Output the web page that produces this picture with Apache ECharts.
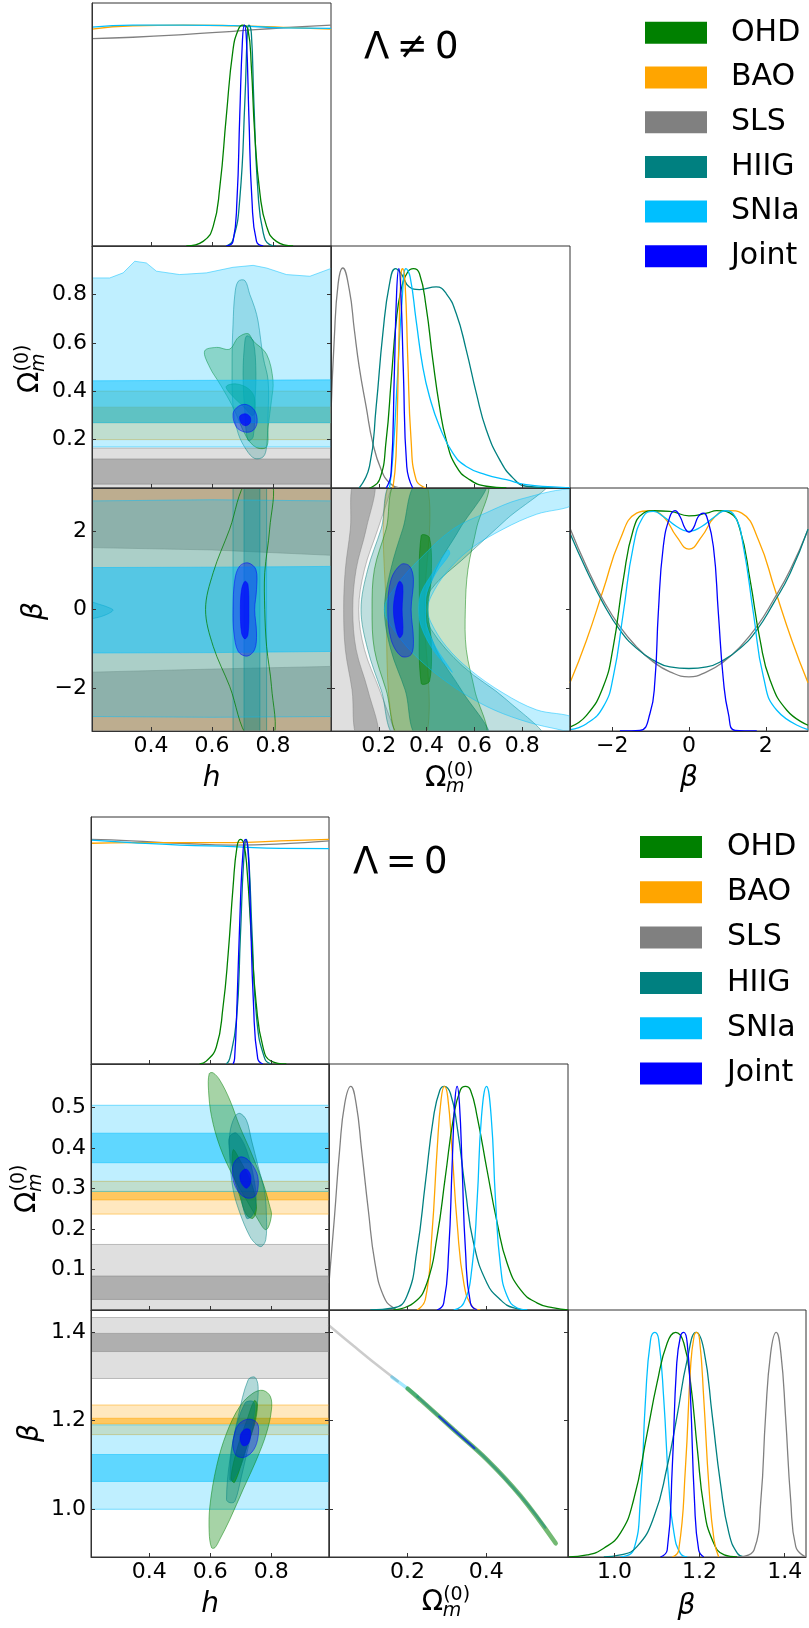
<!DOCTYPE html>
<html><head><meta charset="utf-8">
<script src="https://cdn.jsdelivr.net/npm/echarts@6/dist/echarts.min.js"></script>
<style>html,body{margin:0;padding:0;background:#fff}#c{width:809px;height:1628px}</style>
</head><body><div id="c"></div>
<script>
// ---------------- names / colours ----------------
const NAMES = ['OHD','BAO','SLS','HIIG','SNIa','Joint'];
const COLORS = {OHD:'#008000',BAO:'#ffa500',SLS:'#808080',HIIG:'#008080',SNIa:'#00bfff',Joint:'#0000ff'};
const TITLES = ['\u039b\u2009\u2260\u20090', '\u039b\u2009=\u20090'];

// ---------------- axis ranges & tick labels ----------------
const RANGE_TOP = {h:[0.207,0.99], Om:[0,1], beta:[-3.1,3.1]};
const RANGE_BOT = {h:[0.2085,0.99], Om:[0,0.608], beta:[0.891,1.45]};
const XTICKS_TOP = {h:[0.4,0.6,0.8], Om:[0.2,0.4,0.6,0.8], beta:[-2,0,2]};
const YTICKS_TOP = {Om:[0.2,0.4,0.6,0.8], beta:[-2,0,2]};
const XTICKS_BOT = {h:[0.4,0.6,0.8], Om:[0.2,0.4], beta:[1.0,1.2,1.4]};
const YTICKS_BOT = {Om:[0.1,0.2,0.3,0.4,0.5], beta:[1.0,1.2,1.4]};

// ================= TOP FIGURE (Lambda != 0) =================
const T11_OHD = [[0.516,0],[0.571,0.021],[0.604,0.089],[0.626,0.27],[0.647,0.587],[0.669,0.889],[0.686,0.979],[0.70,1.0],[0.718,0.979],[0.729,0.813],[0.74,0.512],[0.757,0.24],[0.779,0.089],[0.811,0.021],[0.866,0]];
const T11_HIIG = [[0.647,0],[0.669,0.029],[0.691,0.21],[0.708,0.662],[0.716,0.964],[0.721,1.0],[0.729,0.964],[0.737,0.662],[0.751,0.24],[0.768,0.059],[0.789,0.006],[0.81,0]];
const T11_Joint = [[0.647,0],[0.669,0.021],[0.682,0.21],[0.691,0.587],[0.70,0.934],[0.706,1.0],[0.713,0.934],[0.721,0.587],[0.731,0.21],[0.746,0.021],[0.768,0]];
const T11_BAO = [[0.207,0.982],[0.341,0.997],[0.505,1.0],[0.669,0.997],[0.833,0.99],[0.99,0.982]];
const T11_SNIa = [[0.207,0.991],[0.341,1.0],[0.505,1.0],[0.669,0.998],[0.833,0.987],[0.99,0.985]];
const T11_SLS = [[0.207,0.939],[0.341,0.945],[0.505,0.957],[0.669,0.972],[0.833,0.988],[0.99,1.0]];
const T22_SLS = [[0.0,0.34],[0.0134,0.672],[0.03,0.93],[0.049,1.0],[0.0769,0.899],[0.0977,0.718],[0.118,0.551],[0.147,0.37],[0.175,0.204],[0.21,0.083],[0.245,0.023],[0.286,0]];
const T22_HIIG = [[0.118,0],[0.161,0.098],[0.189,0.37],[0.217,0.703],[0.245,0.929],[0.27,0.997],[0.293,0.975],[0.328,0.914],[0.37,0.902],[0.44,0.914],[0.482,0.884],[0.524,0.793],[0.566,0.627],[0.608,0.431],[0.65,0.264],[0.706,0.128],[0.762,0.045],[0.817,0.008],[0.929,0]];
const T22_OHD = [[0.161,0],[0.203,0.038],[0.231,0.219],[0.252,0.491],[0.272,0.748],[0.293,0.899],[0.321,0.982],[0.345,0.997],[0.37,0.975],[0.398,0.823],[0.426,0.582],[0.454,0.37],[0.482,0.219],[0.524,0.098],[0.58,0.038],[0.65,0.008],[0.734,0]];
const T22_SNIa = [[0.245,0],[0.259,0.144],[0.279,0.521],[0.2975,0.854],[0.314,0.997],[0.331,0.96],[0.356,0.763],[0.384,0.551],[0.412,0.416],[0.454,0.28],[0.51,0.159],[0.566,0.098],[0.65,0.06],[0.734,0.038],[0.817,0.015],[0.929,0.005],[1.0,0]];
const T22_BAO = [[0.259,0],[0.272,0.144],[0.284,0.672],[0.293,0.975],[0.30,0.997],[0.31,0.929],[0.321,0.597],[0.335,0.219],[0.356,0.038],[0.398,0]];
const T22_Joint = [[0.231,0],[0.2514,0.068],[0.265,0.521],[0.275,0.899],[0.284,0.997],[0.292,0.899],[0.303,0.521],[0.317,0.098],[0.342,0]];
const T33_BAO = [[-3.1,0.218],[-2.67,0.411],[-2.235,0.638],[-1.8,0.865],[-1.365,0.986],[-1.017,0.997],[-0.67,0.971],[-0.322,0.880],[0,0.823],[0.33,0.880],[0.678,0.971],[1.026,0.998],[1.374,0.986],[1.809,0.865],[2.243,0.638],[2.678,0.411],[3.1,0.218]];
const T33_SLS = [[-3.1,0.918],[-2.67,0.744],[-2.235,0.593],[-1.8,0.472],[-1.365,0.381],[-0.93,0.313],[-0.496,0.268],[0,0.245],[0.461,0.268],[0.896,0.313],[1.33,0.381],[1.765,0.472],[2.2,0.593],[2.635,0.729],[3.1,0.911]];
const T33_HIIG = [[-3.1,0.895],[-2.67,0.728],[-2.235,0.578],[-1.8,0.457],[-1.365,0.374],[-0.93,0.321],[-0.496,0.29],[0,0.283],[0.461,0.29],[0.896,0.321],[1.33,0.374],[1.765,0.457],[2.2,0.578],[2.635,0.714],[3.1,0.914]];
const T33_OHD = [[-3.1,0.018],[-2.67,0.071],[-2.235,0.2],[-1.974,0.381],[-1.713,0.684],[-1.452,0.911],[-1.191,0.986],[-0.93,0.997],[-0.496,0.994],[0,0.974],[0.461,0.986],[0.722,0.998],[1.07,0.986],[1.33,0.911],[1.591,0.684],[1.852,0.411],[2.113,0.23],[2.548,0.094],[3.1,0.026]];
const T33_SNIa = [[-3.1,0.006],[-2.67,0.033],[-2.235,0.109],[-1.974,0.245],[-1.713,0.533],[-1.452,0.835],[-1.191,0.971],[-0.93,0.994],[-0.67,0.971],[-0.322,0.926],[0,0.903],[0.33,0.926],[0.678,0.971],[0.939,0.997],[1.2,0.971],[1.417,0.835],[1.678,0.533],[1.939,0.245],[2.287,0.094],[3.1,0.006]];
const T33_Joint = [[-1.8,0],[-1.278,0.003],[-1.017,0.079],[-0.887,0.23],[-0.8,0.533],[-0.67,0.835],[-0.496,0.971],[-0.365,0.998],[-0.235,0.971],[-0.104,0.918],[0,0.9],[0.113,0.918],[0.243,0.971],[0.374,0.986],[0.461,0.971],[0.635,0.835],[0.765,0.533],[0.896,0.23],[1.026,0.079],[1.2,0.003],[1.765,0]];

const T21_SLS_2s = [[0.2,-0.05],[1,-0.05],[1,0.165],[0.2,0.165]];
const T21_SLS_1s = [[0.2,0.016],[1,0.016],[1,0.12],[0.2,0.12]];
const T21_BAO_2s = [[0.2,0.2],[1,0.2],[1,0.40],[0.2,0.40]];
const T21_BAO_1s = [[0.2,0.27],[1,0.27],[1,0.334],[0.2,0.334]];
const T21_SNIa_2s = [[0.2,0.17],[1,0.17],[1,0.912],[0.921,0.875],[0.844,0.882],[0.779,0.909],[0.735,0.92],[0.669,0.912],[0.582,0.889],[0.494,0.882],[0.418,0.896],[0.385,0.93],[0.347,0.937],[0.309,0.889],[0.265,0.868],[0.2,0.868]];
const T21_SNIa_1s = [[0.2,0.27],[1,0.27],[1,0.447],[0.2,0.443]];
const T21_OHD_2s = [[0.576,0.566],[0.615,0.581],[0.658,0.574],[0.686,0.622],[0.718,0.638],[0.735,0.608],[0.779,0.553],[0.80,0.444],[0.795,0.362],[0.784,0.252],[0.779,0.17],[0.746,0.167],[0.713,0.211],[0.669,0.334],[0.626,0.43],[0.593,0.498]];
const T21_OHD_1s = [[0.647,0.42],[0.68,0.43],[0.72,0.41],[0.74,0.37],[0.735,0.30],[0.70,0.34],[0.66,0.39]];
const T21_HIIG_2s = [[0.686,0.854],[0.708,0.857],[0.724,0.80],[0.74,0.745],[0.751,0.69],[0.768,0.539],[0.784,0.444],[0.784,0.307],[0.779,0.17],[0.768,0.129],[0.74,0.122],[0.713,0.157],[0.686,0.225],[0.669,0.334],[0.666,0.539],[0.669,0.676],[0.675,0.80]];
const T21_HIIG_1s = [[0.715,0.629],[0.735,0.608],[0.744,0.471],[0.74,0.334],[0.735,0.211],[0.718,0.197],[0.708,0.307],[0.702,0.471],[0.708,0.608]];
const T21_Joint_2s = [[0.669,0.307],[0.686,0.337],[0.713,0.345],[0.74,0.32],[0.748,0.272],[0.735,0.238],[0.708,0.231],[0.68,0.252]];
const T21_Joint_1s = [[0.691,0.296],[0.708,0.307],[0.724,0.296],[0.726,0.272],[0.713,0.258],[0.697,0.265]];

const T31_SLS_2s = [[0.2,-3.3],[1,-3.3],[1,3.3],[0.2,3.3]];
const T31_SLS_1s_top = [[0.2,1.58],[0.6,1.52],[1,1.38],[1,3.3],[0.2,3.3]];
const T31_SLS_1s_bot = [[0.2,-1.6],[0.6,-1.52],[1,-1.45],[1,-3.3],[0.2,-3.3]];
const T31_BAO_2s = [[0.2,-3.3],[1,-3.3],[1,3.3],[0.2,3.3]];
const T31_HIIG_2s = [[0.669,-3.3],[0.779,-3.3],[0.779,3.3],[0.669,3.3]];
const T31_HIIG_1s = [[0.705,-3.3],[0.757,-3.3],[0.757,3.3],[0.705,3.3]];
const T31_HIIG_blob = [[0.2,0.17],[0.232,0.13],[0.265,0.04],[0.276,-0.02],[0.254,-0.13],[0.222,-0.21],[0.2,-0.21]];
const T31_SNIa_2s = [[0.2,-2.73],[0.6,-2.75],[1,-2.73],[1,2.77],[0.6,2.8],[0.2,2.77]];
const T31_SNIa_1s = [[0.2,-1.11],[0.6,-1.1],[1,-1.07],[1,1.1],[0.6,1.08],[0.2,1.07]];
const T31_OHD_2s = [[0.716,3.3],[0.658,2.05],[0.604,0.94],[0.579,0],[0.604,-0.94],[0.658,-1.96],[0.721,-3.3],[0.80,-3.3],[0.795,-1.96],[0.779,-0.94],[0.773,0],[0.773,0.94],[0.789,2.05],[0.795,3.3]];
const T31_Joint_2s = [[0.675,0.77],[0.691,1.11],[0.718,1.19],[0.744,1.02],[0.746,0.51],[0.74,0],[0.746,-0.6],[0.74,-1.02],[0.715,-1.19],[0.686,-1.07],[0.672,-0.6],[0.669,0]];
const T31_Joint_1s = [[0.697,0.51],[0.708,0.72],[0.718,0.64],[0.721,0],[0.718,-0.64],[0.708,-0.75],[0.697,-0.6],[0.693,0]];

const T32_SLS_2s = [[-0.05,-3.3],[0.27,-3.3],[0.265,-3.09],[0.203,-2.05],[0.14,-1.02],[0.116,0],[0.14,1.02],[0.196,2.05],[0.252,3.1],[0.254,3.3],[-0.05,3.3]];
const T32_SLS_1s = [[0.097,3.3],[0.081,2.05],[0.06,1.02],[0.053,0],[0.06,-1.02],[0.088,-2.05],[0.111,-3.3],[0.198,-3.3],[0.154,-2.05],[0.105,-1.02],[0.091,0],[0.105,1.02],[0.147,2.05],[0.183,3.3]];
const T32_BAO_2s = [[0.245,3.3],[0.231,0],[0.274,-3.3],[0.398,-3.3],[0.391,0],[0.398,3.3]];
const T32_HIIG_2s = [[0.27,3.3],[0.2095,2.05],[0.1536,1.02],[0.1256,0],[0.1536,-1.02],[0.2095,-2.05],[0.285,-3.3],[0.885,-3.3],[0.734,-2.30],[0.552,-1.45],[0.4191,-0.51],[0.4051,0],[0.4191,0.51],[0.566,1.36],[0.734,2.30],[0.91,3.3]];
const T32_HIIG_1s = [[0.37,3.3],[0.3,2.05],[0.25,1.02],[0.2235,0],[0.25,-1.02],[0.31,-2.05],[0.37,-3.3],[0.66,-3.3],[0.545,-2.05],[0.44,-1.02],[0.398,0],[0.44,1.02],[0.538,2.05],[0.65,3.3]];
const T32_OHD_2s = [[0.283,3.3],[0.2305,2.05],[0.1815,1.02],[0.1718,0],[0.1815,-1.02],[0.2305,-2.05],[0.298,-3.3],[0.641,-3.3],[0.601,-2.05],[0.566,-1.02],[0.562,0],[0.573,1.02],[0.608,2.05],[0.648,3.3]];
const T32_OHD_1s = [[0.3772,1.88],[0.4121,1.83],[0.4191,0.77],[0.4051,0],[0.4191,-0.77],[0.4121,-1.83],[0.3772,-1.88],[0.3702,0]];
const T32_SNIa_2s = [[1.02,3.07],[0.79,2.81],[0.65,2.47],[0.51,2.05],[0.37,1.28],[0.2724,0.6],[0.2235,0],[0.2724,-0.6],[0.37,-1.28],[0.51,-1.96],[0.65,-2.47],[0.79,-2.81],[0.929,-3.03],[1.02,-3.09],[1.02,-2.77],[0.86,-2.56],[0.72,-2.13],[0.58,-1.53],[0.482,-0.94],[0.4191,-0.34],[0.4051,0],[0.4191,0.34],[0.482,0.94],[0.58,1.53],[0.72,2.05],[0.86,2.43],[1.02,2.69]];
const T32_SNIa_1s = [[0.489,1.52],[0.4261,0.94],[0.3772,0.43],[0.3674,0],[0.3772,-0.43],[0.4261,-1.02],[0.507,-1.60],[0.496,-1.49],[0.4401,-0.98],[0.4009,-0.43],[0.3954,0],[0.4009,0.43],[0.4401,0.94],[0.496,1.41]];
const T32_Joint_2s = [[0.2933,1.15],[0.3283,1.11],[0.345,0.77],[0.3352,0],[0.345,-0.77],[0.3352,-1.15],[0.2933,-1.19],[0.2514,-0.77],[0.2375,0],[0.2514,0.77]];
const T32_Joint_1s = [[0.2864,0.72],[0.3003,0.6],[0.2975,0],[0.3003,-0.6],[0.2864,-0.72],[0.2696,-0.43],[0.2612,0],[0.2696,0.43]];

// ================= BOTTOM FIGURE (Lambda = 0) =================
const B11_OHD = [[0.565,0],[0.587,0.013],[0.62,0.076],[0.642,0.254],[0.659,0.492],[0.675,0.789],[0.688,0.968],[0.699,1.0],[0.71,0.982],[0.721,0.863],[0.735,0.566],[0.751,0.269],[0.773,0.076],[0.8,0.013],[0.85,0]];
const B11_HIIG = [[0.653,0],[0.664,0.024],[0.686,0.195],[0.699,0.566],[0.71,0.908],[0.719,1.0],[0.727,0.908],[0.738,0.566],[0.753,0.195],[0.779,0.024],[0.8,0]];
const B11_Joint = [[0.675,0],[0.68,0.024],[0.688,0.269],[0.699,0.715],[0.708,0.952],[0.715,1.0],[0.724,0.952],[0.731,0.715],[0.742,0.269],[0.756,0.024],[0.773,0]];
const B11_BAO = [[0.2085,0.983],[0.34,0.986],[0.5,0.986],[0.675,0.986],[0.83,0.994],[0.99,1.0]];
const B11_SNIa = [[0.2085,0.997],[0.34,0.986],[0.5,0.975],[0.675,0.968],[0.83,0.96],[0.99,0.959]];
const B11_SLS = [[0.2085,1.0],[0.34,0.994],[0.5,0.983],[0.675,0.975],[0.83,0.98],[0.99,0.994]];
const B22_SLS = [[0.0,0.12],[0.014,0.418],[0.027,0.715],[0.04,0.923],[0.0554,1.0],[0.069,0.923],[0.083,0.715],[0.1,0.447],[0.117,0.21],[0.139,0.061],[0.164,0.009],[0.181,0]];
const B22_HIIG = [[0.105,0],[0.164,0.009],[0.198,0.061],[0.224,0.269],[0.245,0.566],[0.266,0.864],[0.282,0.983],[0.2935,1.0],[0.309,0.968],[0.326,0.819],[0.347,0.537],[0.368,0.298],[0.402,0.12],[0.436,0.046],[0.47,0.009],[0.504,0]];
const B22_BAO = [[0.224,0],[0.245,0.046],[0.262,0.343],[0.275,0.715],[0.285,0.938],[0.2935,1.0],[0.302,0.953],[0.313,0.715],[0.326,0.388],[0.343,0.12],[0.364,0.016],[0.385,0]];
const B22_OHD = [[0.164,0],[0.215,0.031],[0.249,0.12],[0.275,0.329],[0.296,0.596],[0.317,0.864],[0.334,0.983],[0.347,1.0],[0.36,0.983],[0.377,0.864],[0.402,0.626],[0.428,0.388],[0.453,0.21],[0.487,0.091],[0.53,0.031],[0.572,0.009],[0.608,0]];
const B22_Joint = [[0.275,0],[0.2918,0.031],[0.3046,0.269],[0.3131,0.641],[0.3199,0.923],[0.3259,1.0],[0.3318,0.923],[0.3386,0.641],[0.3471,0.269],[0.3599,0.031],[0.377,0]];
const B22_SNIa = [[0.3173,0],[0.3429,0.031],[0.3641,0.195],[0.3769,0.492],[0.3879,0.864],[0.4007,1.0],[0.4126,0.864],[0.4236,0.492],[0.4364,0.195],[0.4534,0.061],[0.4789,0.009],[0.5044,0]];
const B33_SNIa = [[1.014,0],[1.045,0.031],[1.061,0.254],[1.073,0.70],[1.085,0.968],[1.095,1.0],[1.104,0.968],[1.116,0.70],[1.128,0.314],[1.14,0.106],[1.155,0.016],[1.171,0]];
const B33_OHD = [[0.891,0],[0.936,0.009],[0.975,0.039],[1.014,0.106],[1.045,0.254],[1.077,0.552],[1.1,0.774],[1.124,0.953],[1.144,1.0],[1.163,0.953],[1.179,0.774],[1.195,0.477],[1.21,0.224],[1.23,0.076],[1.258,0.009],[1.289,0]];
const B33_HIIG = [[0.975,0],[1.014,0.009],[1.053,0.046],[1.093,0.18],[1.124,0.403],[1.147,0.626],[1.171,0.879],[1.192,1.0],[1.21,0.923],[1.23,0.626],[1.249,0.329],[1.269,0.106],[1.289,0.016],[1.304,0]];
const B33_Joint = [[1.108,0],[1.124,0.031],[1.136,0.403],[1.146,0.849],[1.155,0.982],[1.163,1.0],[1.171,0.953],[1.179,0.70],[1.188,0.254],[1.198,0.031],[1.21,0]];
const B33_BAO = [[1.136,0],[1.151,0.031],[1.167,0.403],[1.179,0.849],[1.187,0.982],[1.193,1.0],[1.2,0.968],[1.21,0.70],[1.222,0.314],[1.234,0.076],[1.245,0]];
const B33_SLS = [[1.289,0],[1.328,0.031],[1.344,0.254],[1.355,0.626],[1.367,0.908],[1.38,1.0],[1.391,0.908],[1.402,0.626],[1.414,0.254],[1.426,0.046],[1.45,0]];

const B21_SLS_2s = [[0.2,-0.05],[1,-0.05],[1,0.162],[0.2,0.162]];
const B21_SLS_1s = [[0.2,0.026],[1,0.026],[1,0.084],[0.2,0.084]];
const B21_BAO_2s = [[0.2,0.237],[1,0.237],[1,0.318],[0.2,0.318]];
const B21_BAO_1s = [[0.2,0.272],[1,0.272],[1,0.293],[0.2,0.293]];
const B21_SNIa_2s = [[0.2,0.293],[1,0.293],[1,0.506],[0.2,0.506]];
const B21_SNIa_1s = [[0.2,0.364],[1,0.364],[1,0.437],[0.2,0.437]];
const B21_OHD_2s = [[0.5966,0.584],[0.6097,0.586],[0.6316,0.568],[0.6644,0.519],[0.6972,0.453],[0.7354,0.387],[0.7737,0.313],[0.7956,0.256],[0.801,0.235],[0.79,0.203],[0.7792,0.199],[0.7573,0.223],[0.719,0.272],[0.6753,0.33],[0.6316,0.404],[0.6043,0.478],[0.5944,0.543]];
const B21_OHD_1s = [[0.6753,0.396],[0.6972,0.371],[0.7354,0.313],[0.7518,0.256],[0.7409,0.227],[0.719,0.235],[0.6972,0.281],[0.6753,0.338]];
const B21_HIIG_2s = [[0.6808,0.478],[0.6972,0.486],[0.719,0.469],[0.7354,0.42],[0.7573,0.355],[0.7792,0.289],[0.7846,0.231],[0.7825,0.174],[0.7683,0.157],[0.7518,0.162],[0.73,0.182],[0.6972,0.24],[0.6753,0.297],[0.6644,0.371],[0.6644,0.437]];
const B21_HIIG_1s = [[0.6633,0.428],[0.6863,0.437],[0.719,0.396],[0.7463,0.313],[0.7496,0.256],[0.7354,0.231],[0.719,0.227],[0.6972,0.289],[0.671,0.355],[0.6633,0.396]];
const B21_Joint_2s = [[0.6753,0.359],[0.6972,0.378],[0.7245,0.371],[0.753,0.338],[0.7573,0.305],[0.7463,0.281],[0.719,0.277],[0.6917,0.293],[0.6753,0.322]];
const B21_Joint_1s = [[0.7027,0.342],[0.719,0.348],[0.732,0.334],[0.732,0.313],[0.719,0.301],[0.7027,0.313],[0.6972,0.33]];

const B31_SLS_2s = [[0.2,1.295],[1,1.295],[1,1.433],[0.2,1.433]];
const B31_SLS_1s = [[0.2,1.356],[1,1.356],[1,1.397],[0.2,1.397]];
const B31_BAO_2s = [[0.2,1.168],[1,1.168],[1,1.235],[0.2,1.235]];
const B31_BAO_1s = [[0.2,1.192],[1,1.192],[1,1.205],[0.2,1.205]];
const B31_SNIa_2s = [[0.2,0.999],[1,0.999],[1,1.19],[0.2,1.19]];
const B31_SNIa_1s = [[0.2,1.062],[1,1.062],[1,1.123],[0.2,1.123]];
const B31_OHD_2s = [[0.6043,0.912],[0.5966,0.946],[0.5988,1.006],[0.6207,1.096],[0.6535,1.171],[0.6972,1.232],[0.7409,1.262],[0.7737,1.268],[0.7977,1.254],[0.801,1.224],[0.7846,1.171],[0.7518,1.111],[0.708,1.044],[0.6644,0.976],[0.6316,0.931],[0.6152,0.912]];
const B31_OHD_1s = [[0.668,1.07],[0.69,1.14],[0.72,1.2],[0.745,1.245],[0.755,1.235],[0.745,1.19],[0.715,1.13],[0.68,1.06]];
const B31_HIIG_2s = [[0.6535,1.021],[0.6644,1.111],[0.6917,1.209],[0.7245,1.292],[0.7463,1.298],[0.7573,1.277],[0.7518,1.224],[0.73,1.156],[0.7027,1.074],[0.6808,1.017],[0.6644,1.014]];
const B31_HIIG_1s = [[0.6644,1.066],[0.6753,1.156],[0.7136,1.239],[0.7409,1.243],[0.7463,1.224],[0.73,1.171],[0.708,1.111],[0.6753,1.066]];
const B31_Joint_2s = [[0.6753,1.156],[0.6917,1.19],[0.7245,1.203],[0.7546,1.194],[0.7573,1.164],[0.7431,1.134],[0.7136,1.117],[0.6863,1.12],[0.6753,1.138]];
const B31_Joint_1s = [[0.6994,1.168],[0.7136,1.18],[0.73,1.179],[0.7322,1.164],[0.7245,1.147],[0.708,1.143],[0.6994,1.153]];

const B32_SLS = [[0.0,1.415],[0.0622,1.369],[0.12,1.327],[0.175,1.289]];
const B32_SNIa = [[0.16,1.298],[0.2,1.272],[0.225,1.254]];
const B32_OHD = [[0.2,1.272],[0.2323,1.247],[0.3173,1.179],[0.4024,1.111],[0.4874,1.029],[0.5767,0.922]];
const B32_HIIG = [[0.225,1.254],[0.3173,1.179],[0.4024,1.111],[0.4874,1.029],[0.55,0.958]];
const B32_Joint = [[0.28,1.209],[0.3173,1.179],[0.37,1.137]];

// ---------------- panel assembly ----------------
const LAYOUT = [
  {x:[92,331,570], w:[239,239,238], y:[3,246,488], hgt:[243,242,243]},
  {x:[91,329,568], w:[238,239,238], y:[817,1064,1310], hgt:[247,246,247]}
];
const PARAMS = ['h','Om','beta'];
const FIGAX = [
  {range:RANGE_TOP, xt:XTICKS_TOP, yt:YTICKS_TOP},
  {range:RANGE_BOT, xt:XTICKS_BOT, yt:YTICKS_BOT}
];
const DIAG = [
  [{SLS:T11_SLS,BAO:T11_BAO,SNIa:T11_SNIa,HIIG:T11_HIIG,OHD:T11_OHD,Joint:T11_Joint},
   {SLS:T22_SLS,HIIG:T22_HIIG,OHD:T22_OHD,SNIa:T22_SNIa,BAO:T22_BAO,Joint:T22_Joint},
   {BAO:T33_BAO,SLS:T33_SLS,HIIG:T33_HIIG,OHD:T33_OHD,SNIa:T33_SNIa,Joint:T33_Joint}],
  [{SLS:B11_SLS,BAO:B11_BAO,SNIa:B11_SNIa,HIIG:B11_HIIG,OHD:B11_OHD,Joint:B11_Joint},
   {SLS:B22_SLS,HIIG:B22_HIIG,BAO:B22_BAO,OHD:B22_OHD,SNIa:B22_SNIa,Joint:B22_Joint},
   {SNIa:B33_SNIa,OHD:B33_OHD,HIIG:B33_HIIG,BAO:B33_BAO,Joint:B33_Joint,SLS:B33_SLS}]
];
const SM = {smooth:0};
const OFF = [
  {
    '1,0':[['SLS',T21_SLS_2s,0,SM],['SLS',T21_SLS_1s,1,SM],['BAO',T21_BAO_2s,0,SM],['BAO',T21_BAO_1s,1,SM],
           ['HIIG',T21_HIIG_2s,0,{fill:0.22}],['HIIG',T21_HIIG_1s,1,{fill:0.35}],['OHD',T21_OHD_2s,0,{fill:0.28}],['OHD',T21_OHD_1s,1,{fill:0.45}],
           ['SNIa',T21_SNIa_2s,0,SM],['SNIa',T21_SNIa_1s,1,SM],['Joint',T21_Joint_2s,0],['Joint',T21_Joint_1s,1]],
    '2,0':[['SLS',T31_SLS_2s,0,SM],['SLS',T31_SLS_1s_top,1,SM],['SLS',T31_SLS_1s_bot,1,SM],['BAO',T31_BAO_2s,0,{smooth:0,fill:0.18}],
           ['HIIG',T31_HIIG_2s,0,{smooth:0,fill:0.18}],['HIIG',T31_HIIG_1s,1,{smooth:0,fill:0.32}],['HIIG',T31_HIIG_blob,0],
           ['SNIa',T31_SNIa_2s,0,SM],['SNIa',T31_SNIa_1s,1,SM],['OHD',T31_OHD_2s,0,{fill:0.04,stroke:0.85}],
           ['Joint',T31_Joint_2s,0],['Joint',T31_Joint_1s,1]],
    '2,1':[['SLS',T32_SLS_2s,0],['SLS',T32_SLS_1s,1],['BAO',T32_BAO_2s,0],['HIIG',T32_HIIG_2s,0,{fill:0.25}],['HIIG',T32_HIIG_1s,1,{fill:0.45}],
           ['OHD',T32_OHD_2s,0,{fill:0.22}],['OHD',T32_OHD_1s,1],['SNIa',T32_SNIa_2s,0],['SNIa',T32_SNIa_1s,1],
           ['Joint',T32_Joint_2s,0],['Joint',T32_Joint_1s,1]]
  },
  {
    '1,0':[['SLS',B21_SLS_2s,0,SM],['SLS',B21_SLS_1s,1,SM],['BAO',B21_BAO_2s,0,SM],['BAO',B21_BAO_1s,1,SM],
           ['SNIa',B21_SNIa_2s,0,SM],['SNIa',B21_SNIa_1s,1,SM],
           ['OHD',B21_OHD_2s,0],['HIIG',B21_HIIG_2s,0],['OHD',B21_OHD_1s,1],['HIIG',B21_HIIG_1s,1],
           ['Joint',B21_Joint_2s,0],['Joint',B21_Joint_1s,1]],
    '2,0':[['SLS',B31_SLS_2s,0,SM],['SLS',B31_SLS_1s,1,SM],['BAO',B31_BAO_2s,0,SM],['BAO',B31_BAO_1s,1,SM],
           ['SNIa',B31_SNIa_2s,0,SM],['SNIa',B31_SNIa_1s,1,SM],
           ['OHD',B31_OHD_2s,0],['HIIG',B31_HIIG_2s,0],['OHD',B31_OHD_1s,1],['HIIG',B31_HIIG_1s,1],
           ['Joint',B31_Joint_2s,0],['Joint',B31_Joint_1s,1]],
    '2,1':'lines'
  }
];
const B32_LINES = [['SLS',B32_SLS,2.5,0.4],['SNIa',B32_SNIa,3.5,0.35],['OHD',B32_OHD,4.5,0.55],['HIIG',B32_HIIG,2.5,0.45],['Joint',B32_Joint,2,0.6]];

const ALPHA = {SLS:[0.25,0.5],BAO:[0.25,0.5],SNIa:[0.25,0.5],HIIG:[0.3,0.5],OHD:[0.35,0.5],Joint:[0.35,0.7]};
function rgba(hex,a){const n=parseInt(hex.slice(1),16);return 'rgba('+(n>>16)+','+((n>>8)&255)+','+(n&255)+','+a+')';}

const grids=[], xAxes=[], yAxes=[], polySeries=[], lineSeries=[];
const AXC = '#333';
const FONT = '"DejaVu Sans"';
const TICKFS = 22;

function fmt(fig,p){
  if (fig===0 && p==='beta') return v => (v<0 ? '\u2212'+(-v) : String(v));
  return v => v.toFixed(1);
}

for (let f=0; f<2; f++){
  const L = LAYOUT[f], A = FIGAX[f];
  for (let r=0; r<3; r++) for (let c=0; c<=r; c++){
    const g = grids.length;
    grids.push({left:L.x[c], top:L.y[r], width:L.w[c], height:L.hgt[r], show:true, borderColor:AXC, borderWidth:1, backgroundColor:'rgba(0,0,0,0)'});
    const px = PARAMS[c], py = PARAMS[r];
    xAxes.push({type:'value', gridIndex:g, min:A.range[px][0], max:A.range[px][1], z:10,
      axisLine:{show:true, onZero:false, lineStyle:{color:AXC,width:1}},
      axisTick:{show:true, inside:true, length:4, customValues:A.xt[px], lineStyle:{color:AXC,width:1}},
      axisLabel:{show:r===2, customValues:A.xt[px], formatter:fmt(f,px), fontSize:TICKFS, color:'#000', fontFamily:FONT, margin:4},
      splitLine:{show:false}});
    const xi = xAxes.length-1;
    let yi;
    if (r===c){
      yAxes.push({type:'value', gridIndex:g, min:0, max:1.1, z:10,
        axisLine:{show:true, onZero:false, lineStyle:{color:AXC,width:1}}, axisTick:{show:false}, axisLabel:{show:false}, splitLine:{show:false}});
      yi = yAxes.length-1;
      const curves = DIAG[f][c];
      for (const name of Object.keys(curves)){
        lineSeries.push({type:'line', name, xAxisIndex:xi, yAxisIndex:yi, data:curves[name], smooth:0.5,
          symbol:'none', showSymbol:false, silent:true, clip:true, z:3,
          lineStyle:{color:COLORS[name], width:1.3}, itemStyle:{color:COLORS[name]}});
      }
    } else {
      yAxes.push({type:'value', gridIndex:g, min:A.range[py][0], max:A.range[py][1], z:10,
        axisLine:{show:true, onZero:false, lineStyle:{color:AXC,width:1}},
        axisTick:{show:true, inside:true, length:4, customValues:A.yt[py], lineStyle:{color:AXC,width:1}},
        axisLabel:{show:c===0, customValues:A.yt[py], formatter:fmt(f,py), fontSize:TICKFS, color:'#000', fontFamily:FONT, margin:5},
        splitLine:{show:false}});
      yi = yAxes.length-1;
      yAxes.push({type:'value', gridIndex:g, position:'right', min:A.range[py][0], max:A.range[py][1], z:10,
        axisLine:{show:false, onZero:false},
        axisTick:{show:true, inside:true, length:4, customValues:A.yt[py], lineStyle:{color:AXC,width:1}},
        axisLabel:{show:false}, splitLine:{show:false}});
      const spec = OFF[f][r+','+c];
      const mid = [(A.range[px][0]+A.range[px][1])/2, (A.range[py][0]+A.range[py][1])/2];
      if (spec === 'lines'){
        for (const [name, pts, w, op] of B32_LINES){
          lineSeries.push({type:'line', name, xAxisIndex:xi, yAxisIndex:yi, data:pts, smooth:0.4, symbol:'none', showSymbol:false,
            silent:true, clip:true, z:3, lineStyle:{color:rgba(COLORS[name],op), width:w, cap:'round'}, itemStyle:{color:COLORS[name]}});
        }
      } else {
        for (const layer of spec){
          const [name, pts, lvl, o] = layer;
          const opt = o || {};
          const fillA = opt.fill !== undefined ? opt.fill : ALPHA[name][lvl];
          const strokeA = opt.stroke !== undefined ? opt.stroke : 0.55;
          const smooth = opt.smooth !== undefined ? opt.smooth : 0.35;
          polySeries.push({type:'custom', name, xAxisIndex:xi, yAxisIndex:yi, silent:true, clip:true, z:2,
            itemStyle:{color:COLORS[name]}, data:[mid],
            renderItem:function(params, api){
              const cs = params.coordSys;
              return {type:'polygon', shape:{points:pts.map(p=>api.coord(p)), smooth:smooth},
                style:{fill:rgba(COLORS[name],fillA), stroke:rgba(COLORS[name],strokeA), lineWidth:0.9},
                clipPath:{type:'rect', shape:{x:cs.x+0.5, y:cs.y+0.5, width:cs.width-1, height:cs.height-1}}};
            }});
        }
      }
    }
  }
}

// ---------------- text labels ----------------
function txt(text, x, y, size, opts){
  opts = opts || {};
  return {type:'text', x, y, z:50, silent:true,
    style:{text, fill:'#000', font:(opts.italic?'italic ':'')+size+'px "DejaVu Sans"',
      textAlign:opts.align||'center', textVerticalAlign:'middle', align:opts.align||'center', verticalAlign:'middle'}};
}
function omegaLabel(x, y, rot){
  return {type:'group', x, y, rotation:rot||0, z:50, silent:true, children:[
    txt('\u03a9', 0, 0, 28, {align:'left'}),
    txt('(0)', 21.5, -8, 19, {align:'left'}),
    txt('m', 21, 8.5, 19, {align:'left', italic:true})
  ]};
}
function rotLabel(text, x, y){
  return {type:'group', x, y, rotation:Math.PI/2, z:50, silent:true, children:[txt(text,0,0,28,{italic:true})]};
}
const graphic = [
  txt(TITLES[0], 364, 48, 37, {align:'left'}),
  txt(TITLES[1], 353, 863, 37, {align:'left'}),
  txt('h', 211.7, 779, 28, {italic:true}),
  omegaLabel(425, 779),
  txt('\u03b2', 689, 779, 28, {italic:true}),
  omegaLabel(31, 393, Math.PI/2),
  rotLabel('\u03b2', 34.7, 611),
  txt('h', 210, 1605, 28, {italic:true}),
  omegaLabel(421.7, 1603),
  txt('\u03b2', 686.5, 1606.5, 28, {italic:true}),
  omegaLabel(27.5, 1213, Math.PI/2),
  rotLabel('\u03b2', 30.5, 1433)
];

function legendAt(left, top, gap, pad){
  return {left, top, orient:'vertical', itemWidth:62, itemHeight:22, itemGap:gap, icon:'rect', selectedMode:false,
    textStyle:{fontSize:30, color:'#000', fontFamily:FONT, lineHeight:30, padding:[0,0,0,pad]},
    data:NAMES.map(n=>({name:n, icon:'rect', itemStyle:{color:COLORS[n], opacity:1, borderWidth:0}}))};
}

const chart = echarts.init(document.getElementById('c'), null, {renderer:'canvas'});
chart.setOption({
  animation:false, backgroundColor:'#fff', textStyle:{fontFamily:FONT},
  grid:grids, xAxis:xAxes, yAxis:yAxes,
  legend:[legendAt(640, 12.8, 14.7, 19), legendAt(635, 827, 15.3, 20)],
  graphic:graphic,
  series: polySeries.concat(lineSeries)
});
</script></body></html>
